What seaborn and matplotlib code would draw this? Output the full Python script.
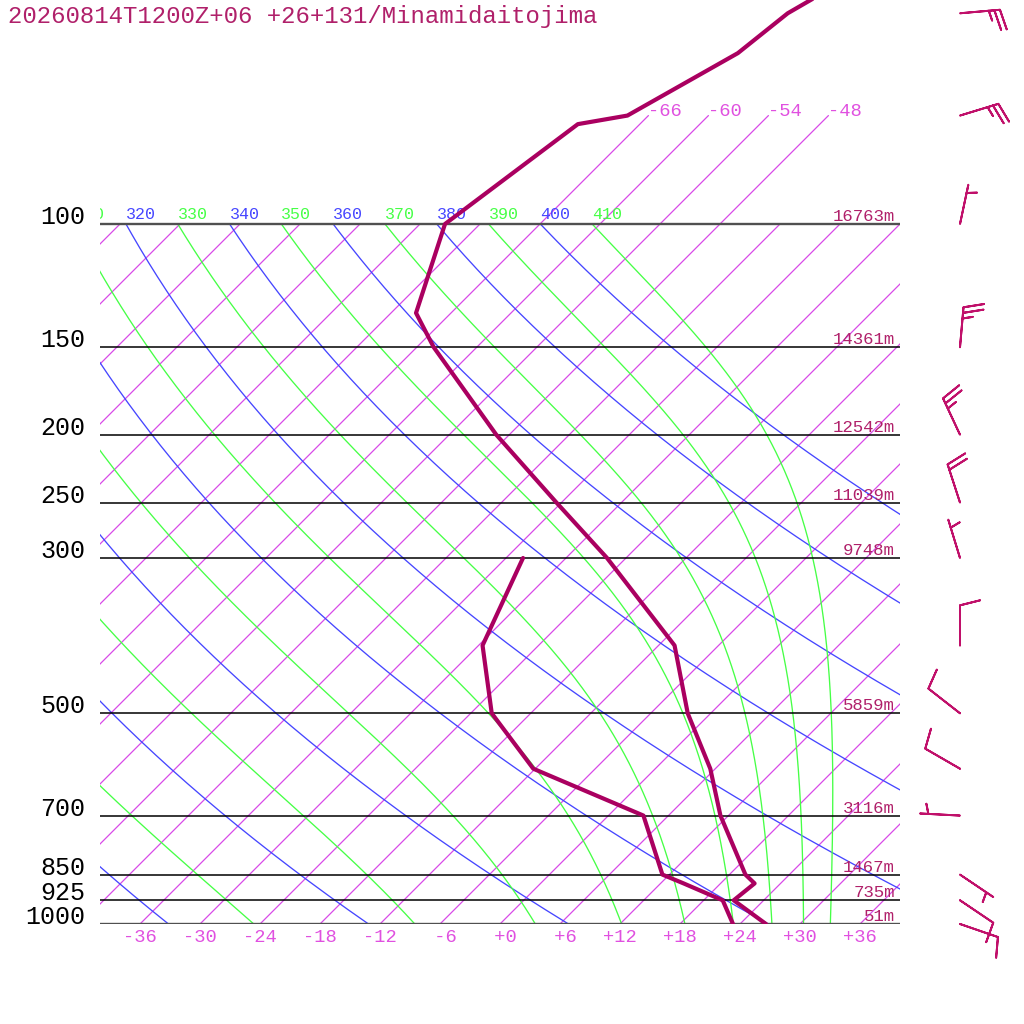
import numpy as np
import pandas as pd
import seaborn as sns
import matplotlib
matplotlib.use("Agg")
import matplotlib.pyplot as plt
from matplotlib.transforms import offset_copy

TITLE = "20260814T1200Z+06 +26+131/Minamidaitojima"

# temperature profile (hPa, degC)
temp_pressure = [1000, 925, 875, 850, 700, 600, 500, 400, 300, 250, 200,
                 150, 134, 100, 72, 70, 57, 50, 30]
temperature = [26.6, 21.0, 21.4, 19.6, 11.2, 5.5, -2.3, -10.4, -25.9, -36.5,
               -49.3, -64.3, -69.5, -75.5, -72.2, -68.1, -63.3, -62.3, -51.0]

# dew point profile
dew_pressure = [1000, 925, 875, 850, 700, 600, 500, 400, 300]
dewpoint = [23.3, 19.9, 14.3, 11.3, 3.5, -12.2, -21.9, -29.6, -34.3]

# standard levels with geopotential height
level_pressure = [100, 150, 200, 250, 300, 500, 700, 850, 925, 1000]
level_height = [16763, 14361, 12542, 11039, 9748, 5859, 3116, 1467, 735, 51]

# winds (direction from, knots)
wind_pressure = [50, 70, 100, 150, 200, 250, 300, 400, 500, 600, 700, 850, 925, 1000]
wind_dir = [85, 73, 12, 5, 335, 342, 343, 0, 308, 300, 273, 124, 124, 109]
wind_speed = [25, 25, 5, 25, 25, 20, 5, 10, 10, 10, 5, 5, 10, 10]

# background lines
isotherms = list(range(-108, 37, 6))
strat_isotherms = [-66, -60, -54, -48]
bottom_labels = list(range(-36, 37, 6))
dry_thetas = list(range(200, 401, 20))
moist_thetas = list(range(210, 411, 20))
theta_labels = list(range(310, 411, 10))

SKEW = 70.0
KAPPA = 0.2857
P_TOP = 1000.0 / 10 ** (924 / 700)
CHAR_W = 1.0  # width of one 12pt mono char in skewed degC

ISO_COLOR = "#d84ae8"
BLUE = "#4646ff"
GREEN = "#46ff46"
LINE_COLOR = "#aa0060"
BARB_COLOR = "#c0106a"
HEIGHT_COLOR = "#b0206a"
TLABEL_COLOR = "#e050e0"


def skew_x(t, p):
    return np.asarray(t, dtype=float) + SKEW * np.log10(1000.0 / np.asarray(p, dtype=float))


def moist_lapse(T, p):
    es = 6.112 * np.exp(17.67 * (T - 273.15) / (T - 29.65))
    rs = 0.622 * es / (p - es)
    Lv, Rd, Cp = 2.501e6, 287.04, 1005.7
    return (Rd * T + Lv * rs) / (p * (Cp + Lv ** 2 * rs * 0.622 / (Rd * T ** 2)))


def moist_adiabat(theta, p):
    # integrate downward from the top level
    T = theta * (p[0] / 1000.0) ** KAPPA
    out = [T]
    for i in range(1, len(p)):
        dp = p[i] - p[i - 1]
        k1 = moist_lapse(T, p[i - 1])
        k2 = moist_lapse(T + k1 * dp, p[i])
        T = T + 0.5 * (k1 + k2) * dp
        out.append(T)
    return np.array(out) - 273.15


sns.set_theme(style="white")
plt.rcParams["font.family"] = ["Liberation Mono", "DejaVu Sans Mono"]

fig = plt.figure(figsize=(10.24, 10.24), dpi=100)
ax = fig.add_axes([100 / 1024, 100 / 1024, 800 / 1024, 924 / 1024])
ax.set_yscale("log")
ax.set_xlim(-40, 40)
ax.set_ylim(1000, P_TOP)
ax.axis("off")

# isotherms
for t in isotherms:
    top = 70 if t in strat_isotherms else 100
    p = np.array([1000, top])
    ax.plot(skew_x(t, p), p, color=ISO_COLOR, lw=0.9, zorder=1)

# dry adiabats
p_dry = np.geomspace(1000, 100, 200)
for th in dry_thetas:
    t = th * (p_dry / 1000.0) ** KAPPA - 273.15
    ax.plot(skew_x(t, p_dry), p_dry, color=BLUE, lw=0.95, zorder=1)

# moist adiabats
p_moist = np.linspace(100, 1000, 901)
for th in moist_thetas:
    t = moist_adiabat(th, p_moist)
    ax.plot(skew_x(t, p_moist), p_moist, color=GREEN, lw=0.95, zorder=1)

# pressure lines
for p in level_pressure:
    edge = p in (100, 1000)
    ax.plot([-40, 40], [p, p], color="#505050" if edge else "black",
            lw=1.7 if edge else 1.1, zorder=2)

# profiles
df_t = pd.DataFrame({"x": skew_x(temperature, temp_pressure), "p": temp_pressure})
df_d = pd.DataFrame({"x": skew_x(dewpoint, dew_pressure), "p": dew_pressure})
for df in (df_t, df_d):
    sns.lineplot(data=df, x="x", y="p", sort=False, estimator=None,
                 color=LINE_COLOR, lw=3, ax=ax, zorder=4)
ax.set_ylim(1000, P_TOP)
ax.set_xlim(-40, 40)

# labels
up5 = offset_copy(ax.transData, fig, x=0, y=5, units="dots")
up3 = offset_copy(ax.transData, fig, x=0, y=3, units="dots")
down = offset_copy(ax.transData, fig, x=0, y=-13, units="dots")

for th in theta_labels:
    x0 = float(skew_x(th * 0.1 ** KAPPA - 273.15, 100))
    label = str(th)
    # drop characters that fall fully left of the plot edge
    n_hidden = max(0, int(np.floor((-40 - x0) / CHAR_W)))
    ax.text(x0 + n_hidden * CHAR_W, 100, label[n_hidden:], transform=up5,
            ha="left", va="baseline", fontsize=12,
            color=BLUE if th % 20 == 0 else GREEN, clip_on=True)

for t in strat_isotherms:
    ax.text(skew_x(t, 70), 70, f"{t:+d}", ha="left", va="baseline",
            fontsize=13.5, color=TLABEL_COLOR)

for t in bottom_labels:
    ax.text(t, 1000, f"{t:+3d}", transform=down, ha="center", va="center",
            fontsize=13.5, color=TLABEL_COLOR, clip_on=False)

for p, h in zip(level_pressure, level_height):
    ax.text(39.5, p, f"{h}m", transform=up3, ha="right", va="baseline",
            fontsize=12.5, color=HEIGHT_COLOR, zorder=6)
    ax.text(-41.5, p, str(p), ha="right", va="baseline", fontsize=18,
            color="black", clip_on=False)

# wind barbs
rad = np.deg2rad(wind_dir)
u = -np.array(wind_speed) * np.sin(rad)
v = -np.array(wind_speed) * np.cos(rad)
ax.barbs(np.full(len(wind_pressure), 46.0), wind_pressure, u, v,
         length=7.6, color=BARB_COLOR, linewidth=1.4, clip_on=False,
         sizes=dict(spacing=0.14, height=0.5, width=0.25), zorder=5)

fig.text(8 / 1024, 1 - 17 / 1024, TITLE, ha="left", va="center",
         fontsize=17.3, color=HEIGHT_COLOR)

fig.savefig("out.png", dpi=100, facecolor="white")
